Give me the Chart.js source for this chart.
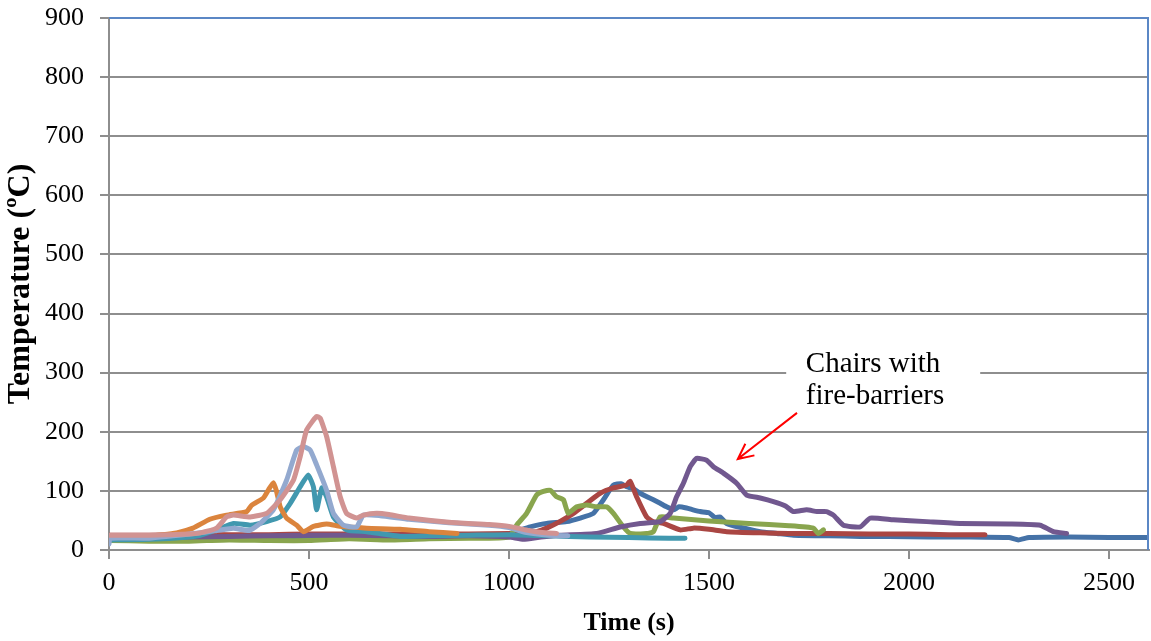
<!DOCTYPE html>
<html>
<head>
<meta charset="utf-8">
<script src="https://cdn.jsdelivr.net/npm/chart.js@4.4.1/dist/chart.umd.min.js"></script>
<style>
  html, body { margin: 0; padding: 0; background: #fff; }
  #wrap { width: 1151px; height: 641px; }
</style>
</head>
<body>
<div id="wrap"><canvas id="tempChart" width="1151" height="641"></canvas></div>
<script>
// ===== Data (time s, temperature ºC) =====
const xTicks = [0, 500, 1000, 1500, 2000, 2500];
const yTicks = [0, 100, 200, 300, 400, 500, 600, 700, 800, 900];

const seriesBlue = [[0,22],[100,21],[200,22],[300,21],[400,22],[500,23],[600,22],[700,23],[800,22],[900,24],[1000,27],[1030,34],[1053,39],[1094,45],[1144,48],[1178,54],[1211,62],[1236,85],[1261,110],[1280,112],[1294,107],[1310,104],[1328,96],[1345,90],[1361,85],[1378,79],[1394,73],[1411,68],[1425,73],[1444,71],[1460,68],[1478,65],[1500,63],[1515,55],[1528,56],[1544,45],[1580,38],[1628,31],[1670,28],[1711,25],[1800,24],[1878,23],[1950,23],[2050,22],[2150,22],[2250,21],[2273,17],[2300,21],[2400,22],[2500,21],[2600,21]];
const seriesRed = [[0,25],[100,25],[200,26],[300,26],[400,26],[500,27],[600,27],[700,27],[800,27],[900,27],[1000,28],[1050,29],[1069,31],[1094,37],[1127,48],[1161,62],[1194,79],[1228,96],[1261,105],[1294,110],[1303,116],[1319,90],[1344,56],[1360,48],[1386,45],[1428,34],[1461,37],[1500,35],[1544,31],[1628,29],[1700,28],[1800,28],[1900,27],[2000,27],[2100,26],[2190,26]];
const seriesGreen = [[0,16],[100,15],[200,15],[300,17],[400,16],[500,16],[600,19],[700,17],[800,19],[900,20],[1000,22],[1019,42],[1044,62],[1069,93],[1086,99],[1103,101],[1119,90],[1136,85],[1148,62],[1169,73],[1194,76],[1219,73],[1244,73],[1261,62],[1286,39],[1303,28],[1344,28],[1361,31],[1378,56],[1411,54],[1500,49],[1600,45],[1700,41],[1761,37],[1773,28],[1786,34]];
const seriesPurple = [[0,20],[100,21],[200,22],[300,23],[400,24],[500,25],[600,25],[700,24],[800,23],[900,24],[1000,22],[1036,18],[1080,22],[1127,25],[1219,28],[1278,39],[1328,45],[1378,48],[1403,62],[1419,90],[1436,113],[1453,141],[1469,155],[1494,152],[1511,141],[1536,130],[1569,113],[1594,93],[1628,88],[1661,82],[1690,75],[1711,65],[1744,68],[1770,65],[1794,65],[1811,59],[1836,42],[1878,39],[1903,54],[1961,51],[2044,48],[2128,45],[2250,44],[2328,42],[2361,31],[2394,28]];
const seriesTeal = [[0,17],[100,18],[200,22],[228,25],[269,34],[311,45],[353,42],[394,48],[428,56],[453,79],[478,107],[498,127],[511,107],[519,68],[532,105],[544,90],[561,56],[594,34],[644,31],[728,23],[800,24],[900,25],[1000,26],[1100,24],[1200,22],[1300,21],[1400,20],[1440,20]];
const seriesOrange = [[0,23],[100,23],[169,29],[210,37],[252,52],[294,59],[344,65],[357,76],[386,88],[398,101],[411,114],[419,99],[428,73],[444,54],[469,42],[486,31],[511,40],[544,44],[578,40],[644,37],[728,35],[800,31],[870,28]];
const seriesLightBlue = [[0,10],[3,20],[100,20],[228,29],[270,33],[311,37],[350,33],[378,45],[411,68],[444,118],[469,169],[486,175],[503,169],[519,144],[544,101],[561,62],[586,42],[619,39],[636,59],[678,58],[750,52],[850,46],[950,42],[1000,38],[1040,30],[1100,25],[1147,24]];
const seriesPink = [[0,25],[100,25],[200,27],[228,29],[269,37],[294,56],[311,59],[353,56],[394,62],[428,85],[461,118],[478,158],[494,203],[519,226],[528,223],[544,192],[561,141],[578,90],[594,62],[619,54],[636,59],[669,62],[700,60],[750,54],[850,47],[950,43],[1000,40],[1050,33],[1090,29],[1119,28]];

const seriesList = [seriesBlue, seriesRed, seriesGreen, seriesPurple, seriesTeal, seriesOrange, seriesLightBlue, seriesPink];
const seriesColors = ['#4572A7', '#AA4643', '#89A54E', '#71588F', '#4198AF', '#DB843D', '#93A9CF', '#D19392'];

// annotation anchors in data units
const noteLines = ['Chairs with', 'fire-barriers'];
const noteAt = [1742, 301];
const noteBox = [1693, 2178, 235, 340];
const arrowFrom = [1720, 232];
const arrowTo = [1572, 154];

const FONT = "'Liberation Serif', 'Times New Roman', serif";

// ===== Plugins =====
const frameBorder = {
  id: 'frameBorder',
  afterDraw(chart) {
    const { ctx, chartArea: a } = chart;
    ctx.save();
    ctx.strokeStyle = '#5B87C5';
    ctx.lineWidth = 2;
    ctx.beginPath();
    ctx.moveTo(a.left, a.top);
    ctx.lineTo(a.right - 1, a.top);
    ctx.lineTo(a.right - 1, a.bottom);
    ctx.stroke();
    ctx.restore();
  }
};

const noteLabel = {
  id: 'noteLabel',
  afterDraw(chart) {
    const { ctx } = chart;
    const xs = chart.scales.x, ys = chart.scales.y;
    ctx.save();
    // white text box
    const bx0 = xs.getPixelForValue(noteBox[0]), bx1 = xs.getPixelForValue(noteBox[1]);
    const by0 = ys.getPixelForValue(noteBox[3]), by1 = ys.getPixelForValue(noteBox[2]);
    ctx.fillStyle = '#fff';
    ctx.fillRect(bx0, by0, bx1 - bx0, by1 - by0);
    // text
    ctx.fillStyle = '#000';
    ctx.font = '29px ' + FONT;
    ctx.textBaseline = 'alphabetic';
    const tx = xs.getPixelForValue(noteAt[0]);
    const ty = ys.getPixelForValue(noteAt[1]);
    noteLines.forEach((line, i) => ctx.fillText(line, tx, ty + i * 32));
    // arrow
    const x0 = xs.getPixelForValue(arrowFrom[0]), y0 = ys.getPixelForValue(arrowFrom[1]);
    const x1 = xs.getPixelForValue(arrowTo[0]), y1 = ys.getPixelForValue(arrowTo[1]);
    ctx.strokeStyle = '#FF0000';
    ctx.lineWidth = 2;
    ctx.beginPath();
    ctx.moveTo(x0, y0);
    ctx.lineTo(x1, y1);
    const ang = Math.atan2(y1 - y0, x1 - x0);
    const head = 17;
    ctx.moveTo(x1 - head * Math.cos(ang - 0.45), y1 - head * Math.sin(ang - 0.45));
    ctx.lineTo(x1, y1);
    ctx.lineTo(x1 - head * Math.cos(ang + 0.45), y1 - head * Math.sin(ang + 0.45));
    ctx.stroke();
    ctx.restore();
  }
};

// ===== Chart =====
const datasets = seriesList.map((pts, i) => ({
  data: pts.map(p => ({ x: p[0], y: p[1] })),
  borderColor: seriesColors[i],
  borderWidth: 5,
  pointRadius: 0,
  tension: 0.15,
  borderCapStyle: 'round',
  borderJoinStyle: 'round',
  fill: false,
  order: seriesList.length - i
}));

new Chart(document.getElementById('tempChart'), {
  type: 'line',
  data: { datasets },
  options: {
    responsive: false,
    devicePixelRatio: 1,
    animation: false,
    layout: { padding: { top: 18, right: 2, left: 0, bottom: 0 } },
    plugins: { legend: { display: false }, tooltip: { enabled: false } },
    scales: {
      x: {
        type: 'linear',
        min: 0,
        max: 2600,
        afterBuildTicks: s => { s.ticks = xTicks.map(v => ({ value: v })); },
        afterFit: s => { s.height = 91; },
        ticks: {
          color: '#000',
          font: { family: FONT, size: 26 },
          padding: 9,
          maxRotation: 0,
          callback: v => String(v)
        },
        grid: { drawOnChartArea: false, tickLength: 9, color: '#8e8e8e', lineWidth: 2 },
        border: { color: '#8e8e8e', width: 2 },
        title: {
          display: true,
          text: 'Time (s)',
          color: '#000',
          font: { family: FONT, size: 26, weight: 'bold' },
          padding: { top: 0, bottom: 2 }
        }
      },
      y: {
        min: 0,
        max: 900,
        afterBuildTicks: s => { s.ticks = yTicks.map(v => ({ value: v })); },
        afterFit: s => { s.width = 109; s.paddingTop = 0; s.paddingBottom = 0; },
        ticks: {
          color: '#000',
          font: { family: FONT, size: 26 },
          padding: 16,
          callback: v => String(v)
        },
        grid: { color: '#8e8e8e', lineWidth: 2, tickLength: 9 },
        border: { color: '#8e8e8e', width: 2 },
        title: {
          display: true,
          text: 'Temperature (\u00baC)',
          color: '#000',
          font: { family: FONT, size: 32, weight: 'bold' },
          padding: { top: 2, bottom: 0 }
        }
      }
    }
  },
  plugins: [frameBorder, noteLabel]
});
</script>
</body>
</html>
